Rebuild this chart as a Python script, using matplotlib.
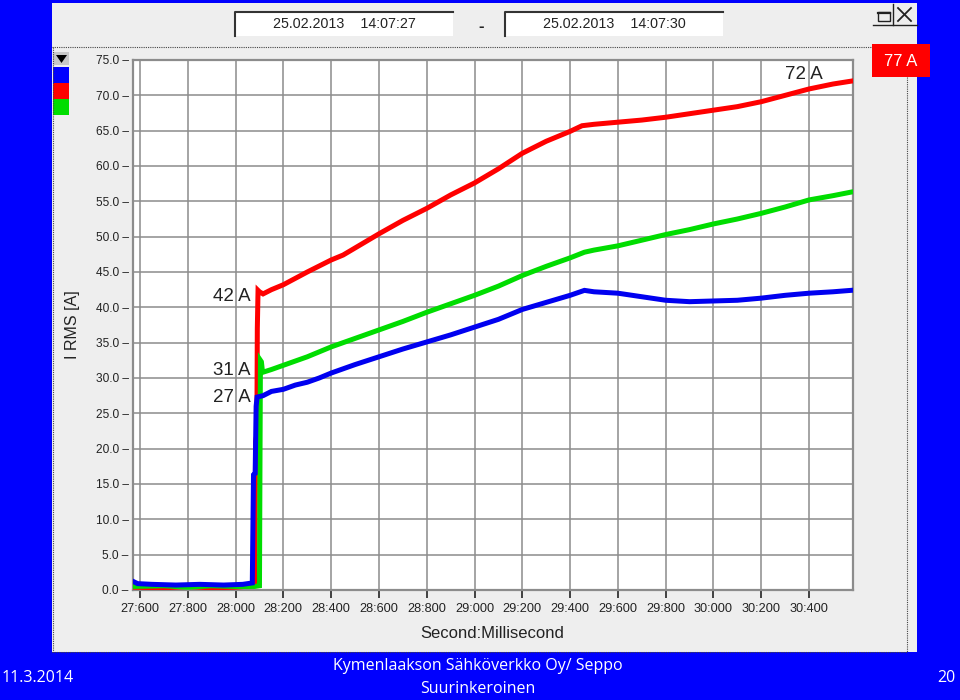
import matplotlib
matplotlib.use("Agg")
import matplotlib.pyplot as plt
from matplotlib.patches import Rectangle, Polygon
from matplotlib.lines import Line2D

# ---------------- data ----------------
t_blue = [27.572, 27.59, 27.65, 27.75, 27.85, 27.95, 28.03, 28.07, 28.075, 28.082, 28.086, 28.09,
          28.115, 28.15, 28.2, 28.25, 28.3, 28.35, 28.4, 28.5, 28.6, 28.7, 28.8, 28.9, 29.0, 29.1,
          29.2, 29.3, 29.4, 29.46, 29.5, 29.6, 29.7, 29.8, 29.9, 30.0, 30.1, 30.2, 30.3, 30.4,
          30.5, 30.575]
v_blue = [1.2, 0.9, 0.8, 0.7, 0.8, 0.7, 0.8, 1.0, 16.3, 16.5, 26.0, 27.3,
          27.5, 28.1, 28.4, 29.0, 29.4, 30.0, 30.7, 31.9, 33.0, 34.1, 35.1, 36.1, 37.2, 38.3,
          39.7, 40.7, 41.7, 42.4, 42.2, 42.0, 41.5, 41.0, 40.8, 40.9, 41.0, 41.3, 41.7, 42.0,
          42.2, 42.4]

t_red = [27.572, 27.7, 27.8, 27.9, 28.0, 28.07, 28.08, 28.084, 28.089, 28.091, 28.094, 28.10,
         28.115, 28.15, 28.2, 28.3, 28.4, 28.45, 28.5, 28.6, 28.7, 28.8, 28.9, 29.0, 29.1, 29.2,
         29.3, 29.4, 29.45, 29.5, 29.6, 29.7, 29.8, 29.9, 30.0, 30.1, 30.2, 30.3, 30.4, 30.5,
         30.575]
v_red = [0.4, 0.3, 0.5, 0.3, 0.4, 0.6, 1.0, 21.0, 22.0, 37.0, 42.4, 42.2,
         41.9, 42.5, 43.2, 45.0, 46.7, 47.4, 48.4, 50.4, 52.3, 54.0, 55.9, 57.6, 59.6, 61.8,
         63.5, 64.9, 65.7, 65.9, 66.2, 66.5, 66.9, 67.4, 67.9, 68.4, 69.1, 70.0, 70.9, 71.6,
         72.0]

t_green = [27.572, 27.7, 27.8, 27.9, 28.0, 28.08, 28.1, 28.102, 28.104, 28.108, 28.113, 28.15,
           28.2, 28.3, 28.4, 28.5, 28.6, 28.7, 28.8, 28.9, 29.0, 29.1, 29.2, 29.3, 29.4, 29.46,
           29.5, 29.6, 29.7, 29.8, 29.9, 30.0, 30.1, 30.2, 30.3, 30.4, 30.5, 30.575]
v_green = [0.5, 0.6, 0.4, 0.6, 0.5, 0.5, 0.6, 17.0, 32.5, 32.3, 30.8, 31.2,
           31.8, 33.0, 34.4, 35.6, 36.8, 38.0, 39.3, 40.5, 41.7, 43.0, 44.5, 45.8, 47.0, 47.8,
           48.1, 48.7, 49.5, 50.3, 51.0, 51.8, 52.5, 53.3, 54.2, 55.2, 55.8, 56.3]

x_ticks = [27.6, 27.8, 28.0, 28.2, 28.4, 28.6, 28.8, 29.0, 29.2, 29.4, 29.6, 29.8, 30.0, 30.2, 30.4]
x_ticklabels = ["27:600", "27:800", "28:000", "28:200", "28:400", "28:600", "28:800", "29:000",
                "29:200", "29:400", "29:600", "29:800", "30:000", "30:200", "30:400"]
y_ticks = [0, 5, 10, 15, 20, 25, 30, 35, 40, 45, 50, 55, 60, 65, 70, 75]

annotations = [("42 A", 28.064, 41.6, "right"), ("31 A", 28.064, 31.0, "right"),
               ("27 A", 28.064, 27.2, "right"), ("72 A", 30.299, 72.9, "left")]

# ---------------- figure ----------------
W, H = 960, 700
fig = plt.figure(figsize=(9.6, 7.0), dpi=100)
fig.patch.set_facecolor("#0000FE")
CF = "Liberation Sans"


def R(x0, y0, x1, y1, z=0.5, **kw):
    fig.add_artist(Rectangle((x0 / W, 1 - y1 / H), (x1 - x0) / W, (y1 - y0) / H,
                             transform=fig.transFigure, zorder=z, **kw))


def L(xs, ys, **kw):
    fig.add_artist(Line2D([x / W for x in xs], [1 - y / H for y in ys],
                          transform=fig.transFigure, zorder=2, **kw))


def T(x, y, s, **kw):
    fig.text(x / W, 1 - y / H, s, zorder=3, **kw)


# panel
R(52, 3, 917, 652, z=0.1, fc="#EEEEEE", ec="none")
dot = dict(color="#444444", lw=0.8, ls=(0, (1, 1)))
L([52, 872], [47, 47], **dot)
L([53, 53], [47, 652], **dot)
L([52, 907], [652, 652], **dot)
L([907, 907], [77, 652], **dot)

# date boxes
for (x0, x1, s) in [(235, 453, "25.02.2013    14:07:27"), (505, 723, "25.02.2013    14:07:30")]:
    R(x0, 12, x1, 36, fc="white", ec="none")
    L([x0, x0, x1], [36, 12, 12], color="#333333", lw=1.5)
    T((x0 + x1) / 2, 24, s, ha="center", va="center", fontsize=10.3, color="#222222", family=CF)
T(481, 26, "-", ha="center", va="center", fontsize=12, fontweight="bold", color="#222222", family=CF)

# window buttons
R(878, 12, 890, 21, fc="none", ec="#222222", lw=1.0)
L([878, 890], [12.5, 12.5], color="#222222", lw=1.6)
L([893, 893], [4, 25], color="#222222", lw=1.0)
L([898, 911], [8, 21], color="#222222", lw=1.3)
L([898, 911], [21, 8], color="#222222", lw=1.3)
L([873, 917], [25, 25], color="#222222", lw=1.0)

# red value box
R(872, 44, 930, 77, fc="#FF0000", ec="none")
T(901, 61, "77 A", ha="center", va="center", fontsize=12, color="white", family=CF)

# legend swatches
R(53, 52, 69, 65, fc="#C8C8C8", ec="none")
fig.add_artist(Polygon([(56 / W, 1 - 55 / H), (67 / W, 1 - 55 / H), (61.5 / W, 1 - 63 / H)],
                       closed=True, fc="black", ec="none", transform=fig.transFigure, zorder=1))
R(53, 67, 69, 83, fc="#0000FF", ec="none")
R(53, 83, 69, 99, fc="#FF0000", ec="none")
R(53, 99, 69, 115, fc="#00DD00", ec="none")

# ---------------- plot ----------------
ax = fig.add_axes([133 / W, 1 - 590 / H, 720 / W, 530 / H])
ax.set_zorder(1)
ax.set_facecolor("white")
ax.plot(t_red, v_red, color="#FF0000", lw=3.6, solid_joinstyle="miter", zorder=3)
ax.plot(t_green, v_green, color="#00DD00", lw=3.6, solid_joinstyle="miter", zorder=3)
ax.plot(t_blue, v_blue, color="#0000F0", lw=3.6, solid_joinstyle="miter", zorder=4)
ax.set_xlim(27.5707, 30.584)
ax.set_ylim(0, 75)
ax.set_xticks(x_ticks)
ax.set_xticklabels(x_ticklabels, fontsize=9.2, color="#222222", family=CF)
ax.set_yticks(y_ticks)
ax.set_yticklabels([f"{v:.1f} \u2013" for v in y_ticks], fontsize=8.6, color="#222222", family=CF)
ax.tick_params(axis="y", length=0, pad=3)
ax.tick_params(axis="x", direction="out", length=6, width=1.3, color="#333333", pad=3)
ax.grid(True, color="#8c8c8c", lw=1.1, zorder=1)
ax.set_axisbelow(True)
for sp in ax.spines.values():
    sp.set_color("#8c8c8c")
    sp.set_linewidth(1.6)

for s, x, y, ha in annotations:
    ax.text(x, y, s, ha=ha, va="center", fontsize=13.5, color="#222222", family=CF, zorder=5)

T(73, 325, "I RMS [A]", rotation=90, ha="center", va="center", fontsize=11.5, color="#222222", family=CF)
T(492, 633, "Second:Millisecond", ha="center", va="center", fontsize=12, color="#222222", family=CF)

# footer
FF = ["Open Sans", "DejaVu Sans"]
T(2, 678, "11.3.2014", ha="left", va="center", fontsize=11.5, color="white", family=FF)
T(478, 666, "Kymenlaakson Sähköverkko Oy/ Seppo", ha="center", va="center", fontsize=11.5,
  color="white", family=FF)
T(478, 689, "Suurinkeroinen", ha="center", va="center", fontsize=11.5, color="white", family=FF)
T(955, 678, "20", ha="right", va="center", fontsize=11.5, color="white", family=FF)

fig.savefig("out.png", dpi=100, facecolor=fig.get_facecolor())
